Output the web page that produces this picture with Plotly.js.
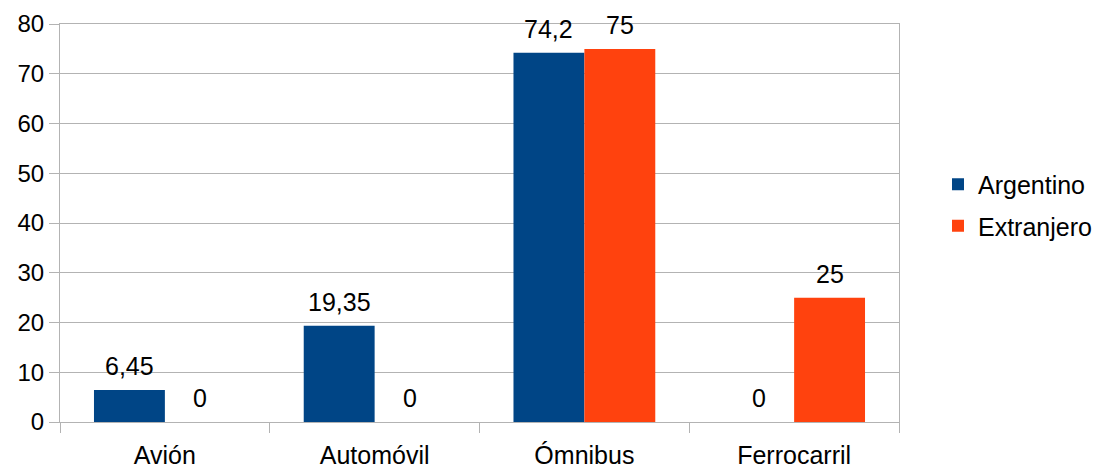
<!DOCTYPE html>
<html>
<head>
<meta charset="utf-8">
<script src="https://cdn.plot.ly/plotly-3.0.1.min.js"></script>
<style>html,body{margin:0;padding:0;background:#fff;}#chart{width:1099px;height:470px;}</style>
</head>
<body>
<div id="chart"></div>
<script>
const categories = ["Avión", "Automóvil", "Ómnibus", "Ferrocarril"];
const argentino = [6.45, 19.35, 74.2, 0];
const extranjero = [0, 0, 75, 25];
const seriesNames = ["Argentino", "Extranjero"];
const seriesColors = ["#004586", "#ff420e"];
const yTicks = [0, 10, 20, 30, 40, 50, 60, 70, 80];

const family = "Liberation Sans, Arial, sans-serif";
const font = {family: family, size: 25, color: "#000"};
const tickFont = {family: family, size: 24, color: "#000"};
const fmt = v => String(v).replace(".", ",");

const series = [argentino, extranjero];
const traces = series.map((vals, i) => ({
  type: "bar", name: seriesNames[i], x: categories, y: vals,
  marker: {color: seriesColors[i]}, legendgroup: "g" + i, hoverinfo: "x+y"
}));

const annotations = [];
series.forEach((vals, i) => {
  vals.forEach((v, j) => {
    annotations.push({
      x: categories[j], y: v, xref: "x", yref: "y",
      text: fmt(v), showarrow: false, font: font,
      xanchor: "center", yanchor: "bottom",
      xshift: i === 0 ? -35.5 : 35.5, yshift: 8
    });
  });
});

const layout = {
  width: 1099, height: 470,
  margin: {l: 60, r: 200, t: 24, b: 48},
  paper_bgcolor: "#fff", plot_bgcolor: "#fff",
  font: font,
  separators: ",.",
  barmode: "group", bargap: 0.324, bargroupgap: 0,
  showlegend: true,
  legend: {xref: "container", yref: "container", x: 0.8535, y: 0.5638,
           yanchor: "middle", xanchor: "left", font: font,
           traceorder: "grouped", tracegroupgap: 6, itemwidth: 30},
  annotations: annotations,
  xaxis: {type: "category", tickson: "boundaries", ticks: "outside", ticklen: 10,
          tickcolor: "#b3b3b3", showline: true, linecolor: "#b3b3b3", mirror: true,
          showgrid: false, tickfont: font, ticklabelstandoff: 11, automargin: false, fixedrange: true},
  yaxis: {range: [0, 80], tickvals: yTicks, ticks: "outside", ticklen: 10, tickcolor: "#b3b3b3",
          showline: true, linecolor: "#b3b3b3", mirror: true, gridcolor: "#b3b3b3",
          zeroline: false, tickfont: tickFont, automargin: false, fixedrange: true}
};

Plotly.newPlot("chart", traces, layout, {displayModeBar: false, staticPlot: true});
</script>
</body>
</html>
